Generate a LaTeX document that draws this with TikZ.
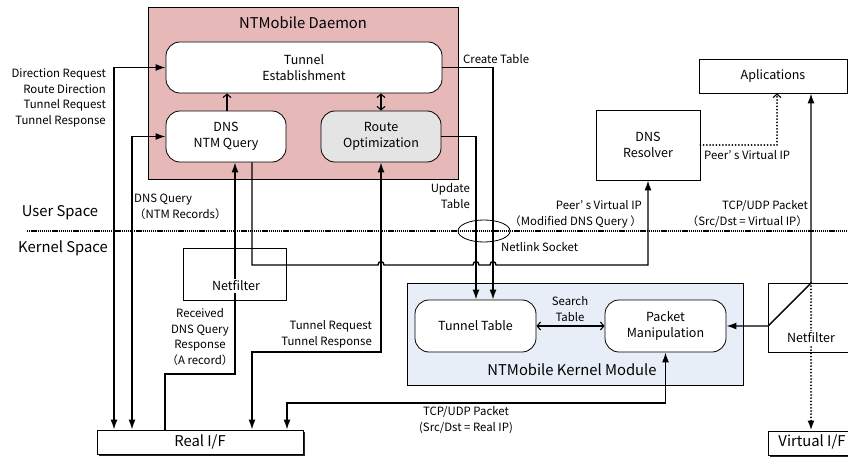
\documentclass[tikz,border=0pt]{standalone}
\usepackage{fontspec}
\setmainfont{Noto Sans CJK JP}
\usetikzlibrary{arrows.meta,shadows}
\definecolor{daemonfill}{HTML}{E6B9B8}
\definecolor{kernelfill}{HTML}{E8EEF8}
\definecolor{routefill}{HTML}{E4E4E4}
\newcommand{\boxfont}{\fontsize{12.5}{16}\selectfont}
\newcommand{\lblfont}{\fontsize{11.4}{15.6}\selectfont}
\newcommand{\bigfont}{\fontsize{14.8}{17}\selectfont}
\tikzset{
  >={Latex[length=10pt,width=7pt]},
  barb/.tip={Straight Barb[length=3.5pt,width=8pt,line width=1.1pt]},
  plainbox/.style={draw, line width=0.8pt, inner sep=0pt, align=center, font=\boxfont},
  rbox/.style={plainbox, rounded corners=14pt, fill=white},
  conn/.style={line width=1.4pt},
  dotconn/.style={line width=2pt, line cap=round, dash pattern=on 0pt off 3.2pt},
  sep/.style={line width=1.3pt, dash pattern=on 1.3pt off 0.8pt},
  lbl/.style={inner sep=0pt, font=\lblfont},
  nftext/.style={fill=white, inner sep=1.5pt, font=\boxfont},
  ifbox/.style={plainbox, fill=white, font=\bigfont, drop shadow={shadow xshift=1.6pt, shadow yshift=-1.6pt, opacity=1, fill=black!85}}
}
\begin{document}
\begin{tikzpicture}[x=1pt,y=-1pt]
\useasboundingbox (0,0) rectangle (848,457);
% helper coordinates
\coordinate (v114) at (114,0);
\coordinate (v132) at (132,0);
\coordinate (v165) at (165,0);
\coordinate (v227) at (227,0);
\coordinate (v252) at (252,0);
\coordinate (v476) at (476,0);
\coordinate (v493) at (493,0);
\coordinate (v777) at (777,0);
\coordinate (p1) at (235,374);
\coordinate (p2) at (252,352);
\coordinate (p3) at (287,403);
\coordinate (nf) at (811,283);
\coordinate (nfl) at (768,326);

% containers
\node[plainbox, fill=daemonfill, minimum width=310pt, minimum height=172pt] (daemon) at (303,93) {};
\node[lbl, font=\bigfont] (daemontitle) at (303,23) {NTMobile Daemon};
\node[plainbox, fill=kernelfill, minimum width=336pt, minimum height=102pt] (kernel) at (575,334) {};
\node[lbl, font=\bigfont] (kerneltitle) at (572,370) {NTMobile Kernel Module};

% user / kernel separator
\draw[sep] (27,231) -- (848,231);
\node[lbl, font=\bigfont] (userspace) at (60,213) {User Space};
\node[lbl, font=\bigfont] (kernelspace) at (63,248) {Kernel Space};

% boxes
\node[rbox, minimum width=276pt, minimum height=51pt] (tunnel) at (304,67.5) {Tunnel\\Establishment};
\node[rbox, minimum width=120pt, minimum height=51pt] (dnsq) at (226,136.5) {DNS\\NTM Query};
\node[rbox, fill=routefill, minimum width=120pt, minimum height=51pt] (route) at (381,136.5) {Route\\Optimization};
\node[plainbox, fill=white, minimum width=148pt, minimum height=34pt] (app) at (773,76) {Aplications};
\node[plainbox, fill=white, minimum width=104pt, minimum height=70pt] (resolver) at (648,145) {DNS\\Resolver};
\node[plainbox, fill=white, minimum width=103pt, minimum height=52pt] (netf1) at (234.5,274) {};
\node[rbox, minimum width=121pt, minimum height=52pt] (ttable) at (475.5,326) {Tunnel Table};
\node[rbox, minimum width=121pt, minimum height=52pt] (pman) at (665.5,326) {Packet\\Manipulation};
\node[plainbox, fill=white, minimum width=100pt, minimum height=69pt] (netf2) at (818,317.5) {};
\node[ifbox, minimum width=206pt, minimum height=24pt] (realif) at (200,442) {Real I/F};
\node[ifbox, minimum width=100pt, minimum height=24pt] (virtif) at (818,443) {};
\node[lbl, font=\bigfont] (virtiftext) at (812,442) {Virtual I/F};

% netlink socket
\draw[line width=0.8pt] (484,231) ellipse [x radius=26, y radius=11];

% connectors
\draw[conn,<->] (tunnel.west) -| (realif.north -| v114);
\draw[conn,<->] (dnsq.west) -| (realif.north -| v132);
\draw[conn,->] (realif.north -| v165) |- (p1) -- (dnsq.south -| p1);
\draw[conn,->] (dnsq.south -| v252) -- (252,265) -- (378,265)
  .. controls (378,260.5) and (384,260.5) .. (384,265) -- (473,265)
  .. controls (473,260.5) and (479,260.5) .. (479,265) -- (490,265)
  .. controls (490,260.5) and (496,260.5) .. (496,265) -| (resolver.south);
\draw[conn,<->] (route.south) |- (p2) -- (realif.north -| p2);
\draw[conn,->] (route.east) -| (ttable.north -| v476);
\draw[conn,->] (tunnel.east) -| (ttable.north -| v493);
\draw[conn,barb-barb] (ttable.east) -- (pman.west);
\draw[conn,<->] (pman.east) -- (nfl) -- (nf) -- (app.south -| nf);
\draw[dotconn,->] (nf) -- (virtif.north -| nf);
\draw[dotconn,-barb] (resolver.east) -| (app.south -| v777);
\draw[conn,<->] (pman.south) |- (p3) -- (realif.north -| p3);
\draw[conn,-barb] (dnsq.north -| v227) -- (tunnel.south -| v227);
\draw[conn,barb-barb] (tunnel.south -| route.north) -- (route.north);

% netfilter texts over the lines
\node[nftext] (netf1text) at (236,286) {Netfilter};
\node[nftext] (netf2text) at (811,338) {Netfilter};

% labels
\node[lbl, anchor=east, align=right] (l1) at (106,98) {Direction Request\\Route Direction\\Tunnel Request\\Tunnel Response};
\node[lbl, anchor=west, align=left] (l2) at (134,207) {DNS Query\\（NTM Records）};
\node[lbl, align=center] (l3) at (200,337) {Received\\DNS Query\\Response\\（A record）};
\node[lbl, anchor=east, align=right] (l4) at (372,334) {Tunnel Request\\Tunnel Response};
\node[lbl, anchor=west] (l5) at (463,59) {Create Table};
\node[lbl, anchor=east, align=right] (l6) at (470,196) {Update\\Table};
\node[lbl, anchor=west] (l7) at (501,247) {Netlink Socket};
\node[lbl, anchor=east, align=right] (l8) at (642,214) {Peer’ s Virtual IP\\（Modified DNS Query ）};
\node[lbl, anchor=west] (l9) at (704,155) {Peer’ s Virtual IP};
\node[lbl, anchor=east, align=right] (l10) at (808,214) {TCP/UDP Packet\\（Src/Dst = Virtual IP）};
\node[lbl, align=center] (l11) at (570,309) {Search\\Table};
\node[lbl, align=center] (l12) at (466,420) {TCP/UDP Packet\\(Src/Dst = Real IP)};
\end{tikzpicture}
\end{document}
